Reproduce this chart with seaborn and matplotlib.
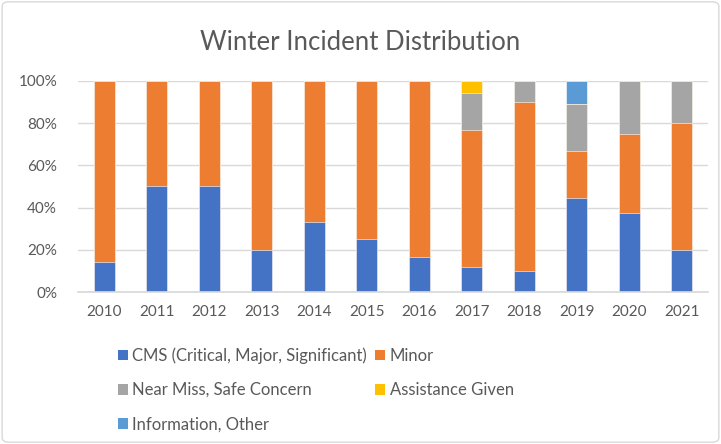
import matplotlib
matplotlib.use("Agg")
import matplotlib.pyplot as plt
import seaborn as sns
import pandas as pd
import numpy as np
from matplotlib.patches import Patch, FancyBboxPatch

years = ["2010", "2011", "2012", "2013", "2014", "2015", "2016", "2017", "2018", "2019", "2020", "2021"]
cms = [14.3, 50, 50, 20, 33.3, 25, 16.7, 11.8, 10, 44.4, 37.5, 20]
minor = [85.7, 50, 50, 80, 66.7, 75, 83.3, 64.7, 80, 22.2, 37.5, 60]
near_miss = [0, 0, 0, 0, 0, 0, 0, 17.6, 10, 22.2, 25, 20]
assistance = [0, 0, 0, 0, 0, 0, 0, 5.9, 0, 0, 0, 0]
information = [0, 0, 0, 0, 0, 0, 0, 0, 0, 11.1, 0, 0]

series_names = ["CMS (Critical, Major, Significant)", "Minor", "Near Miss, Safe Concern",
                "Assistance Given", "Information, Other"]
series_vals = [cms, minor, near_miss, assistance, information]
colors = ["#4472C4", "#ED7D31", "#A5A5A5", "#FFC000", "#5B9BD5"]

sns.set_theme(style="white")
plt.rcParams['font.family'] = ['Lato', 'DejaVu Sans']
text_color = "#595959"

fig = plt.figure(figsize=(7.21, 4.44), dpi=100)
ax = fig.add_axes([0.108, 0.342, 0.874, 0.476])

cum = np.cumsum(np.array(series_vals, dtype=float), axis=0)
# draw from top layer down so lower layers overlay
for i in range(len(series_names) - 1, -1, -1):
    df = pd.DataFrame({"year": years, "value": cum[i] / 100.0})
    sns.barplot(data=df, x="year", y="value", color=colors[i], width=0.4,
                saturation=1, ax=ax, edgecolor="white", linewidth=0.4, zorder=2)

ax.set_ylim(0, 1)
ax.set_xlim(-0.5, len(years) - 0.5)
ax.set_yticks(np.arange(0, 1.01, 0.2))
ax.set_yticklabels([f"{int(round(v*100))}%" for v in np.arange(0, 1.01, 0.2)])
ax.yaxis.grid(True, color="#D9D9D9", linewidth=1, zorder=0)
ax.set_axisbelow(True)
for s in ["top", "right", "left"]:
    ax.spines[s].set_visible(False)
ax.spines["bottom"].set_color("#D9D9D9")
ax.tick_params(axis="both", length=0, labelsize=11, colors=text_color, pad=9)
ax.tick_params(axis="y", pad=15)
ax.set_xlabel("")
ax.set_ylabel("")

fig.text(0.5, 0.905, "Winter Incident Distribution", ha="center", va="center",
         fontsize=18.5, color=text_color)

handles = [Patch(facecolor=c, edgecolor="none") for c in colors]
order = [0, 2, 4, 1, 3]
leg = fig.legend([handles[i] for i in order], [series_names[i] for i in order],
                 ncol=2, loc="upper left", bbox_to_anchor=(0.164, 0.218),
                 frameon=False, fontsize=12, handlelength=0.6, handleheight=0.6,
                 handletextpad=0.25, columnspacing=0.5, labelspacing=1.1,
                 borderaxespad=0, borderpad=0)
for t in leg.get_texts():
    t.set_color(text_color)

border = FancyBboxPatch((0.003, 0.004), 0.994, 0.992, boxstyle="round,pad=0,rounding_size=0.01",
                        transform=fig.transFigure, facecolor="none", edgecolor="#D9D9D9",
                        linewidth=1)
fig.patches.append(border)

fig.savefig("out.png", dpi=100)
